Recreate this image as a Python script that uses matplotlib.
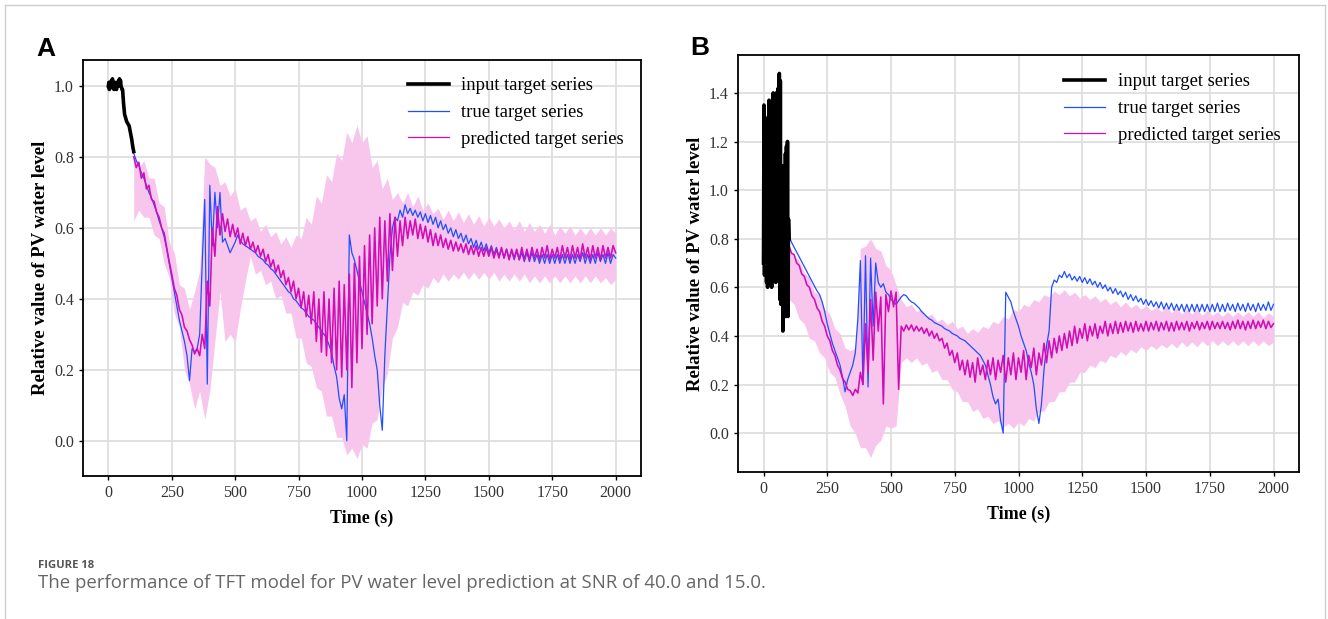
import numpy as np
import matplotlib
matplotlib.use('Agg')
import matplotlib.pyplot as plt
from matplotlib.lines import Line2D

# ---------------- Panel A data (SNR 40) ----------------
inputA_t = list(range(0, 101, 2))
inputA_v = [1.00, 1.01, 0.99, 1.005, 1.00, 0.995, 1.015, 1.00, 1.02, 0.995,
            1.01, 0.99, 1.005, 1.01, 0.995, 1.00, 0.99, 1.005, 1.00, 1.01,
            1.015, 1.00, 1.02, 1.01, 1.015, 1.00, 0.995, 0.99, 0.99, 0.97,
            0.95, 0.935, 0.92, 0.915, 0.91, 0.905, 0.90, 0.897, 0.895, 0.892,
            0.89, 0.887, 0.88, 0.872, 0.865, 0.857, 0.85, 0.84, 0.83, 0.822,
            0.815]

predA = [0.80, 0.77, 0.785, 0.74, 0.755, 0.71, 0.72, 0.68, 0.675, 0.645,
         0.63, 0.60, 0.585, 0.545, 0.505, 0.47, 0.43, 0.41, 0.37, 0.355,
         0.32, 0.31, 0.285, 0.27, 0.245, 0.26, 0.24, 0.30, 0.26, 0.45,
         0.38, 0.60, 0.52, 0.66, 0.58, 0.64, 0.59, 0.625, 0.575, 0.61,
         0.575, 0.60, 0.555, 0.585, 0.55, 0.575, 0.54, 0.56, 0.53, 0.55,
         0.52, 0.54, 0.505, 0.525, 0.49, 0.51, 0.475, 0.495, 0.46, 0.48,
         0.44, 0.46, 0.42, 0.45, 0.40, 0.43, 0.375, 0.42, 0.35, 0.41,
         0.33, 0.42, 0.28, 0.40, 0.25, 0.42, 0.24, 0.40, 0.22, 0.43,
         0.20, 0.45, 0.18, 0.44, 0.20, 0.47, 0.15, 0.50, 0.22, 0.52,
         0.26, 0.55, 0.30, 0.58, 0.33, 0.60, 0.38, 0.63, 0.40, 0.62,
         0.45, 0.64, 0.48, 0.63, 0.52, 0.62, 0.55, 0.63, 0.57, 0.62,
         0.58, 0.625, 0.57, 0.61, 0.57, 0.605, 0.56, 0.595, 0.55, 0.585,
         0.55, 0.58, 0.545, 0.57, 0.54, 0.565, 0.535, 0.56, 0.535, 0.555,
         0.53, 0.555, 0.525, 0.55, 0.525, 0.55, 0.52, 0.545, 0.52, 0.545,
         0.52, 0.545, 0.515, 0.54, 0.515, 0.545, 0.515, 0.54, 0.51, 0.54,
         0.515, 0.54, 0.51, 0.545, 0.51, 0.54, 0.51, 0.545, 0.515, 0.54,
         0.51, 0.545, 0.515, 0.55, 0.51, 0.54, 0.515, 0.545, 0.51, 0.55,
         0.515, 0.545, 0.51, 0.55, 0.515, 0.545, 0.51, 0.555, 0.515, 0.545,
         0.51, 0.55, 0.515, 0.545, 0.51, 0.55, 0.515, 0.545, 0.515, 0.55,
         0.53]

trueA = [0.81, 0.79, 0.775, 0.755, 0.74, 0.72, 0.70, 0.685, 0.665, 0.645,
         0.62, 0.60, 0.575, 0.54, 0.50, 0.46, 0.42, 0.38, 0.34, 0.31,
         0.28, 0.24, 0.17, 0.26, 0.25, 0.26, 0.30, 0.50, 0.68, 0.16,
         0.72, 0.55, 0.70, 0.60, 0.70, 0.56, 0.57, 0.55, 0.53, 0.545,
         0.56, 0.58, 0.565, 0.555, 0.55, 0.545, 0.54, 0.535, 0.53, 0.52,
         0.515, 0.51, 0.50, 0.495, 0.485, 0.48, 0.47, 0.46, 0.45, 0.44,
         0.43, 0.42, 0.415, 0.40, 0.395, 0.385, 0.375, 0.37, 0.36, 0.35,
         0.345, 0.34, 0.33, 0.32, 0.31, 0.30, 0.29, 0.27, 0.25, 0.21,
         0.18, 0.12, 0.09, 0.13, 0.00, 0.58, 0.53, 0.51, 0.48, 0.45,
         0.42, 0.39, 0.36, 0.33, 0.29, 0.24, 0.20, 0.10, 0.03, 0.24,
         0.38, 0.52, 0.60, 0.63, 0.62, 0.65, 0.63, 0.665, 0.64, 0.655,
         0.635, 0.65, 0.63, 0.645, 0.62, 0.64, 0.615, 0.635, 0.61, 0.63,
         0.60, 0.62, 0.595, 0.61, 0.585, 0.60, 0.575, 0.595, 0.57, 0.585,
         0.56, 0.58, 0.555, 0.57, 0.545, 0.565, 0.54, 0.56, 0.535, 0.555,
         0.53, 0.55, 0.525, 0.545, 0.52, 0.54, 0.515, 0.54, 0.515, 0.535,
         0.51, 0.535, 0.51, 0.53, 0.505, 0.53, 0.505, 0.53, 0.505, 0.525,
         0.50, 0.525, 0.50, 0.525, 0.50, 0.525, 0.50, 0.525, 0.50, 0.525,
         0.50, 0.525, 0.50, 0.525, 0.50, 0.525, 0.505, 0.53, 0.50, 0.525,
         0.50, 0.525, 0.50, 0.53, 0.505, 0.525, 0.50, 0.53, 0.50, 0.525,
         0.515]

bandA_hi = [0.81, 0.77, 0.79, 0.74, 0.74, 0.67, 0.66, 0.56, 0.53, 0.44,
            0.43, 0.37, 0.42, 0.48, 0.80, 0.78, 0.77, 0.72, 0.73, 0.69,
            0.71, 0.65, 0.66, 0.62, 0.63, 0.59, 0.61, 0.575, 0.59, 0.555,
            0.575, 0.545, 0.58, 0.57, 0.63, 0.61, 0.69, 0.67, 0.75, 0.73,
            0.81, 0.79, 0.87, 0.84, 0.89, 0.84, 0.86, 0.77, 0.79, 0.71,
            0.74, 0.68, 0.70, 0.67, 0.70, 0.66, 0.69, 0.65, 0.67, 0.64,
            0.655, 0.625, 0.65, 0.62, 0.645, 0.615, 0.64, 0.61, 0.635, 0.605,
            0.63, 0.605, 0.625, 0.60, 0.62, 0.595, 0.62, 0.59, 0.615, 0.59,
            0.61, 0.585, 0.61, 0.58, 0.605, 0.585, 0.605, 0.58, 0.60, 0.58,
            0.60, 0.58, 0.60, 0.58, 0.60, 0.585]
bandA_lo = [0.62, 0.65, 0.63, 0.63, 0.58, 0.57, 0.50, 0.46, 0.36, 0.32,
            0.20, 0.16, 0.09, 0.14, 0.06, 0.14, 0.28, 0.42, 0.28, 0.30,
            0.28, 0.37, 0.45, 0.52, 0.47, 0.48, 0.44, 0.45, 0.40, 0.41,
            0.36, 0.36, 0.29, 0.29, 0.22, 0.21, 0.15, 0.14, 0.07, 0.07,
            0.01, 0.01, -0.04, -0.02, -0.05, -0.01, -0.02, 0.05, 0.06, 0.15,
            0.19, 0.29, 0.32, 0.39, 0.38, 0.42, 0.41, 0.44, 0.43, 0.46,
            0.445, 0.47, 0.45, 0.47, 0.455, 0.475, 0.455, 0.475, 0.455, 0.475,
            0.455, 0.475, 0.45, 0.47, 0.45, 0.47, 0.45, 0.47, 0.445, 0.465,
            0.445, 0.465, 0.445, 0.465, 0.445, 0.465, 0.445, 0.465, 0.445, 0.465,
            0.445, 0.465, 0.445, 0.46, 0.44, 0.455]

# ---------------- Panel B data (SNR 15) ----------------
inputB_t = list(range(0, 101, 2))
inputB_v = [0.70, 1.35, 0.65, 1.30, 0.75, 1.20, 0.62, 1.25, 0.60, 1.10,
            0.70, 1.37, 0.62, 1.33, 0.80, 1.20, 0.60, 1.36, 0.70, 1.40,
            0.65, 1.38, 0.85, 1.15, 0.62, 1.40, 0.75, 1.30, 0.68, 1.42,
            0.80, 1.48, 0.55, 1.45, 0.53, 1.10, 0.70, 1.05, 0.42, 1.10,
            0.60, 0.95, 0.50, 1.15, 0.48, 1.18, 0.52, 1.20, 0.48, 0.88,
            0.80]

predB = [0.77, 0.74, 0.735, 0.70, 0.69, 0.655, 0.645, 0.61, 0.60, 0.565,
         0.55, 0.515, 0.50, 0.46, 0.44, 0.40, 0.38, 0.34, 0.32, 0.28,
         0.26, 0.225, 0.21, 0.18, 0.175, 0.155, 0.18, 0.165, 0.25, 0.20,
         0.45, 0.25, 0.55, 0.30, 0.58, 0.42, 0.56, 0.12, 0.57, 0.50,
         0.585, 0.52, 0.58, 0.18, 0.44, 0.42, 0.445, 0.425, 0.445, 0.42,
         0.44, 0.42, 0.435, 0.41, 0.43, 0.40, 0.42, 0.39, 0.41, 0.38,
         0.39, 0.35, 0.37, 0.32, 0.34, 0.29, 0.33, 0.26, 0.30, 0.24,
         0.30, 0.23, 0.29, 0.21, 0.31, 0.24, 0.28, 0.22, 0.30, 0.24,
         0.31, 0.22, 0.30, 0.25, 0.32, 0.21, 0.31, 0.24, 0.33, 0.22,
         0.31, 0.25, 0.34, 0.22, 0.32, 0.27, 0.35, 0.24, 0.33, 0.28,
         0.37, 0.29, 0.38, 0.31, 0.39, 0.33, 0.40, 0.34, 0.41, 0.35,
         0.42, 0.36, 0.44, 0.37, 0.43, 0.39, 0.45, 0.38, 0.44, 0.40,
         0.45, 0.39, 0.44, 0.41, 0.46, 0.40, 0.45, 0.41, 0.46, 0.41,
         0.455, 0.415, 0.46, 0.42, 0.455, 0.415, 0.46, 0.42, 0.45, 0.42,
         0.46, 0.42, 0.455, 0.425, 0.46, 0.42, 0.455, 0.425, 0.46, 0.42,
         0.455, 0.42, 0.46, 0.425, 0.455, 0.425, 0.46, 0.42, 0.455, 0.43,
         0.46, 0.425, 0.455, 0.43, 0.46, 0.425, 0.46, 0.43, 0.455, 0.43,
         0.46, 0.43, 0.455, 0.425, 0.46, 0.43, 0.465, 0.43, 0.46, 0.425,
         0.46, 0.43, 0.465, 0.43, 0.46, 0.435, 0.465, 0.43, 0.46, 0.435,
         0.45]

trueB = [0.81, 0.785, 0.765, 0.745, 0.725, 0.705, 0.685, 0.665, 0.645, 0.625,
         0.605, 0.585, 0.57, 0.54, 0.50, 0.45, 0.41, 0.37, 0.34, 0.31,
         0.28, 0.23, 0.17, 0.22, 0.25, 0.28, 0.33, 0.47, 0.71, 0.20,
         0.73, 0.19, 0.72, 0.44, 0.70, 0.62, 0.60, 0.615, 0.58, 0.57,
         0.55, 0.54, 0.53, 0.545, 0.56, 0.57, 0.565, 0.55, 0.54, 0.535,
         0.525, 0.515, 0.50, 0.49, 0.48, 0.47, 0.465, 0.455, 0.45, 0.445,
         0.44, 0.43, 0.425, 0.42, 0.41, 0.405, 0.40, 0.39, 0.385, 0.38,
         0.37, 0.36, 0.35, 0.34, 0.33, 0.32, 0.30, 0.28, 0.24, 0.20,
         0.15, 0.12, 0.14, 0.05, 0.00, 0.58, 0.56, 0.54, 0.50, 0.47,
         0.44, 0.40, 0.37, 0.34, 0.29, 0.25, 0.20, 0.10, 0.04, 0.12,
         0.26, 0.36, 0.42, 0.60, 0.63, 0.62, 0.65, 0.64, 0.665, 0.64,
         0.655, 0.63, 0.645, 0.625, 0.645, 0.62, 0.64, 0.615, 0.635, 0.61,
         0.625, 0.60, 0.62, 0.595, 0.61, 0.585, 0.60, 0.575, 0.595, 0.57,
         0.585, 0.56, 0.58, 0.55, 0.57, 0.545, 0.565, 0.54, 0.555, 0.53,
         0.55, 0.525, 0.545, 0.52, 0.54, 0.515, 0.54, 0.51, 0.535, 0.51,
         0.535, 0.505, 0.53, 0.505, 0.53, 0.50, 0.53, 0.50, 0.53, 0.50,
         0.53, 0.50, 0.53, 0.50, 0.53, 0.50, 0.53, 0.50, 0.535, 0.50,
         0.53, 0.50, 0.535, 0.505, 0.53, 0.50, 0.535, 0.505, 0.53, 0.50,
         0.535, 0.505, 0.53, 0.50, 0.535, 0.505, 0.53, 0.505, 0.54, 0.505,
         0.53]

bandB_hi = [0.77, 0.73, 0.71, 0.66, 0.64, 0.58, 0.57, 0.51, 0.49, 0.43,
            0.41, 0.35, 0.34, 0.35, 0.76, 0.77, 0.80, 0.76, 0.75, 0.69,
            0.67, 0.61, 0.55, 0.52, 0.53, 0.50, 0.51, 0.48, 0.49, 0.46,
            0.47, 0.445, 0.46, 0.43, 0.44, 0.41, 0.43, 0.415, 0.44, 0.43,
            0.46, 0.45, 0.48, 0.47, 0.51, 0.50, 0.53, 0.52, 0.55, 0.54,
            0.57, 0.56, 0.585, 0.57, 0.59, 0.565, 0.58, 0.555, 0.57, 0.55,
            0.565, 0.54, 0.555, 0.53, 0.545, 0.52, 0.54, 0.515, 0.53, 0.51,
            0.525, 0.505, 0.52, 0.50, 0.52, 0.495, 0.515, 0.49, 0.51, 0.49,
            0.51, 0.485, 0.505, 0.485, 0.50, 0.48, 0.50, 0.48, 0.50, 0.48,
            0.50, 0.48, 0.50, 0.475, 0.495, 0.48]
bandB_lo = [0.55, 0.53, 0.47, 0.45, 0.39, 0.38, 0.33, 0.31, 0.25, 0.23,
            0.16, 0.11, 0.03, 0.00, -0.06, -0.06, -0.10, -0.05, -0.03, 0.03,
            0.02, 0.03, 0.29, 0.31, 0.29, 0.31, 0.28, 0.29, 0.25, 0.26,
            0.22, 0.22, 0.18, 0.17, 0.13, 0.13, 0.09, 0.10, 0.06, 0.07,
            0.04, 0.05, 0.025, 0.04, 0.02, 0.045, 0.03, 0.06, 0.05, 0.09,
            0.09, 0.13, 0.13, 0.17, 0.17, 0.21, 0.21, 0.25, 0.25, 0.28,
            0.27, 0.30, 0.29, 0.32, 0.31, 0.335, 0.32, 0.345, 0.33, 0.355,
            0.34, 0.36, 0.345, 0.365, 0.35, 0.37, 0.35, 0.375, 0.355, 0.375,
            0.355, 0.38, 0.36, 0.38, 0.36, 0.38, 0.36, 0.38, 0.36, 0.38,
            0.36, 0.38, 0.36, 0.38, 0.36, 0.375]

pred_t = list(range(100, 2001, 10))
band_t = list(range(100, 2001, 20))
x_ticks = [0, 250, 500, 750, 1000, 1250, 1500, 1750, 2000]
yticksA = [0.0, 0.2, 0.4, 0.6, 0.8, 1.0]
yticksB = [0.0, 0.2, 0.4, 0.6, 0.8, 1.0, 1.2, 1.4]
labels = ['input target series', 'true target series', 'predicted target series']

C_INPUT = '#000000'
C_TRUE = '#1f4fff'
C_PRED = '#d10db8'
C_BAND = '#f8c6ec'
SERIF = ['Liberation Serif', 'DejaVu Serif']

W, H = 1328, 619
fig = plt.figure(figsize=(W / 100, H / 100), dpi=100)


def px_axes(l, t, r, b):
    return fig.add_axes([l / W, 1 - b / H, (r - l) / W, (b - t) / H])


def draw_panel(ax, in_t, in_v, true_v, pred_v, lo, hi, yticks, ylim, leg_anchor):
    ax.fill_between(band_t, lo, hi, color=C_BAND, lw=0, zorder=1)
    ax.plot(pred_t, true_v, color=C_TRUE, lw=0.9, zorder=2)
    ax.plot(pred_t, pred_v, color=C_PRED, lw=1.15, zorder=3)
    ax.plot(in_t, in_v, color=C_INPUT, lw=2.6, zorder=4, solid_joinstyle='round')
    ax.set_xlim(-100, 2100)
    ax.set_ylim(*ylim)
    ax.set_xticks(x_ticks)
    ax.set_xticklabels([str(v) for v in x_ticks])
    ax.set_yticks(yticks)
    ax.set_yticklabels([f'{v:.1f}' for v in yticks])
    ax.grid(True, color='#dedede', lw=1.3, zorder=0)
    ax.set_axisbelow(True)
    for s in ax.spines.values():
        s.set_color('black')
        s.set_linewidth(1.3)
    ax.tick_params(direction='out', length=3, width=1, color='black',
                   labelsize=11.5, labelcolor='#333333', pad=3.5)
    for lab in ax.get_xticklabels() + ax.get_yticklabels():
        lab.set_family(SERIF)
    ax.set_xlabel('Time (s)', family=SERIF, fontsize=13, weight='bold', labelpad=6)
    ax.set_ylabel('Relative value of PV water level', family=SERIF, fontsize=13.5,
                  weight='bold', labelpad=4)
    handles = [Line2D([], [], color=C_INPUT, lw=2.6),
               Line2D([], [], color=C_TRUE, lw=0.9),
               Line2D([], [], color=C_PRED, lw=0.9)]
    ax.legend(handles, labels, loc='upper left', bbox_to_anchor=leg_anchor,
              frameon=False, borderpad=0, borderaxespad=0, handlelength=2.2,
              handletextpad=0.68, labelspacing=0.52,
              prop={'family': SERIF, 'size': 13.4})


axA = px_axes(83, 60, 641, 476)
draw_panel(axA, inputA_t, inputA_v, trueA, predA, bandA_lo, bandA_hi,
           yticksA, (-0.099, 1.073), (0.582, 0.958))

axB = px_axes(738, 55, 1299, 472)
draw_panel(axB, inputB_t, inputB_v, trueB, predB, bandB_lo, bandB_hi,
           yticksB, (-0.16, 1.556), (0.581, 0.956))

fig.text(36.5 / W, 1 - 56 / H, 'A', fontsize=19, weight='bold',
         family=['Liberation Sans', 'DejaVu Sans'], va='baseline', ha='left')
fig.text(690 / W, 1 - 55 / H, 'B', fontsize=19, weight='bold',
         family=['Liberation Sans', 'DejaVu Sans'], va='baseline', ha='left')

fig.text(37.5 / W, 1 - 568 / H, 'FIGURE 18', fontsize=8.1, weight='bold',
         family=['Open Sans', 'DejaVu Sans'], color='#555555', va='baseline', ha='left')
fig.text(37.5 / W, 1 - 588 / H,
         'The performance of TFT model for PV water level prediction at SNR of 40.0 and 15.0.',
         fontsize=13.4, family=['Open Sans', 'DejaVu Sans'], color='#666666',
         va='baseline', ha='left')

# light outer frame (left, top, right)
fc = '#cfcfcf'
fig.add_artist(Line2D([4.5 / W, 4.5 / W], [0, 1 - 5 / H], color=fc, lw=1, transform=fig.transFigure))
fig.add_artist(Line2D([4.5 / W, 1325 / W], [1 - 5 / H, 1 - 5 / H], color=fc, lw=1, transform=fig.transFigure))
fig.add_artist(Line2D([1325 / W, 1325 / W], [0, 1 - 5 / H], color=fc, lw=1, transform=fig.transFigure))

fig.savefig('out.png', dpi=100)
